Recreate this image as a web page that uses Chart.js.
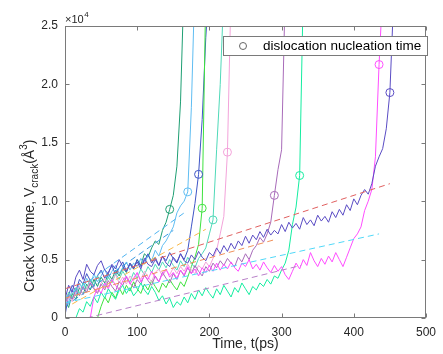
<!DOCTYPE html>
<html>
<head>
<meta charset="utf-8">
<script src="https://cdn.jsdelivr.net/npm/chart.js@4.4.0/dist/chart.umd.min.js"></script>
<style>
  html, body { margin: 0; padding: 0; background: #fff; }
</style>
</head>
<body>
<canvas id="crack-chart" width="443" height="354"></canvas>
<script>
// crack volume (x10^4 A^3) sampled every 5 ps, each run from its own start time
const STEP = 5;
const xTicks = [0, 100, 200, 300, 400, 500];
const yTicks = [0, 0.5, 1, 1.5, 2, 2.5];

const runNames  = ['darkGreen', 'lightBlue', 'medBlue', 'brightGreen', 'turquoise', 'pink', 'mauve', 'spring', 'magenta', 'slate'];
const runColors = ['#1f9f73', '#5fbdf2', '#3f55c6', '#3ee23e', '#4fd9b8', '#f3a3da', '#a86bb9', '#14eda0', '#ff4dff', '#5a4cc4'];
const runStart  = [0, 0, 0, 45, 0, 0, 0, 15, 35, 0];

const darkGreen = [0.15,0.09,0.21,0.16,0.26,0.20,0.29,0.24,0.33,0.27,
  0.35,0.30,0.38,0.33,0.41,0.36,0.43,0.39,0.47,0.42,
  0.50,0.45,0.55,0.52,0.60,0.66,0.63,0.75,0.82,0.93,
  1.05,1.30,1.85,2.9];
const lightBlue = [0.20,0.13,0.25,0.19,0.30,0.24,0.34,0.28,0.38,0.31,
  0.36,0.42,0.34,0.40,0.45,0.38,0.43,0.48,0.41,0.47,
  0.44,0.51,0.46,0.54,0.49,0.58,0.53,0.62,0.66,0.72,
  0.78,0.90,0.96,1.00,1.08,1.80,2.9];
const medBlue = [0.02,0.20,0.28,0.23,0.33,0.29,0.38,0.32,0.27,0.36,
  0.41,0.34,0.39,0.45,0.37,0.43,0.48,0.40,0.46,0.42,
  0.50,0.44,0.49,0.55,0.47,0.52,0.45,0.53,0.49,0.56,
  0.51,0.47,0.55,0.50,0.58,0.78,0.98,1.23,1.70,2.4,2.9];
const brightGreen = [0.00,0.10,0.18,0.13,0.22,0.17,0.26,0.20,0.28,0.23,
  0.31,0.25,0.21,0.29,0.24,0.32,0.27,0.22,0.30,0.26,
  0.33,0.28,0.24,0.31,0.27,0.35,0.44,0.52,0.63,0.94,2.8];
const turquoise = [0.14,0.22,0.17,0.26,0.21,0.30,0.25,0.33,0.28,0.36,
  0.31,0.27,0.35,0.30,0.38,0.33,0.40,0.35,0.31,0.39,
  0.34,0.42,0.37,0.44,0.39,0.46,0.41,0.48,0.43,0.50,
  0.45,0.41,0.49,0.44,0.52,0.47,0.43,0.51,0.55,0.60,
  0.72,0.84,1.44,2.0,2.8];
const pink = [0.10,0.18,0.14,0.22,0.27,0.20,0.25,0.31,0.26,0.22,
  0.30,0.34,0.27,0.32,0.37,0.30,0.35,0.29,0.36,0.32,
  0.38,0.33,0.40,0.35,0.31,0.39,0.42,0.36,0.41,0.37,
  0.43,0.38,0.44,0.40,0.46,0.41,0.38,0.45,0.42,0.48,
  0.44,0.51,0.58,0.72,0.87,1.42,2.8];
const mauve = [0.12,0.20,0.16,0.24,0.19,0.27,0.22,0.30,0.25,0.21,
  0.29,0.24,0.32,0.27,0.23,0.31,0.28,0.35,0.30,0.26,
  0.33,0.29,0.37,0.32,0.28,0.36,0.31,0.39,0.34,0.30,
  0.38,0.33,0.41,0.36,0.43,0.38,0.45,0.40,0.36,0.44,
  0.40,0.47,0.43,0.49,0.45,0.51,0.47,0.44,0.52,0.48,
  0.55,0.50,0.58,0.62,0.69,0.65,0.72,0.82,1.05,1.27,
  1.44,2.8];
const spring = [0.00,0.08,0.05,0.14,0.10,0.18,0.13,0.22,0.17,0.25,
  0.20,0.16,0.24,0.28,0.21,0.26,0.19,0.23,0.30,0.24,
  0.20,0.27,0.22,0.15,0.19,0.12,0.17,0.09,0.14,0.11,
  0.18,0.13,0.21,0.16,0.24,0.19,0.26,0.21,0.17,0.25,
  0.20,0.28,0.23,0.18,0.26,0.22,0.30,0.25,0.20,0.27,
  0.24,0.30,0.27,0.33,0.29,0.36,0.34,0.41,0.47,0.58,
  0.80,0.95,1.22,2.8];
const magenta = [0.00,0.18,0.26,0.21,0.30,0.25,0.33,0.28,0.24,0.32,
  0.36,0.29,0.34,0.39,0.31,0.36,0.33,0.40,0.35,0.31,
  0.38,0.42,0.35,0.39,0.34,0.41,0.37,0.44,0.38,0.42,
  0.36,0.43,0.39,0.45,0.40,0.47,0.41,0.46,0.42,0.48,
  0.43,0.40,0.47,0.44,0.50,0.42,0.46,0.41,0.48,0.43,
  0.39,0.45,0.40,0.44,0.37,0.33,0.40,0.47,0.42,0.50,
  0.45,0.56,0.49,0.44,0.51,0.46,0.53,0.48,0.56,0.50,
  0.44,0.52,0.60,0.68,0.72,0.78,0.92,1.00,1.10,1.38,
  2.17,2.8];
const slate = [0.16,0.28,0.22,0.35,0.41,0.33,0.46,0.40,0.37,0.45,0.49,0.41,0.38,0.46,0.42,0.50,0.44,0.40,0.47,0.43,
  0.48,0.42,0.51,0.46,0.44,0.50,0.45,0.53,0.47,0.44,0.52,0.48,0.55,0.49,0.47,0.54,0.50,0.57,0.52,0.49,
  0.56,0.53,0.60,0.55,0.62,0.57,0.64,0.59,0.66,0.62,0.70,0.64,0.71,0.67,0.74,0.69,0.76,0.71,0.75,0.72,
  0.80,0.74,0.82,0.77,0.81,0.76,0.86,0.80,0.84,0.79,0.88,0.83,0.87,0.82,0.91,0.86,0.93,0.88,0.97,0.92,
  1.02,0.97,1.05,1.10,1.06,1.15,1.30,1.38,1.45,1.62,1.93,2.7];
const runValues = [darkGreen, lightBlue, medBlue, brightGreen, turquoise, pink, mauve, spring, magenta, slate];

// dislocation nucleation points, same order as the runs
const nucTime = [145, 170, 185, 190, 205, 225, 290, 325, 435, 450];
const nucVol  = [0.93, 1.08, 1.23, 0.94, 0.84, 1.42, 1.05, 1.22, 2.17, 1.93];

// linear fits (dashed): start/end time and volume
const fitColors = ['#e06060', '#f0905a', '#f8b848', '#50d8f8', '#b880c8', '#50b4f0', '#3a9ae0'];
const fitT0 = [0, 0, 10, 0, 30, 0, 0];
const fitV0 = [0.25, 0.17, 0.12, 0.13, 0, 0.17, 0.10];
const fitT1 = [450, 290, 195, 435, 327, 165, 150];
const fitV1 = [1.15, 0.67, 0.76, 0.72, 0.45, 0.90, 0.75];

const FONT = '"Liberation Sans", Arial, Helvetica, sans-serif';
const AXIS = '#7a7a7a';
const TXT = '#262626';

// ─── datasets ─────────────────────────────────────────
const datasets = [];
runValues.forEach((vals, i) => {
  datasets.push({
    label: runNames[i],
    data: vals.map((v, k) => ({ x: runStart[i] + k * STEP, y: v })),
    borderColor: runColors[i],
    borderWidth: 1,
    pointRadius: 0,
    showLine: true,
    tension: 0,
    order: 100 - i
  });
});
fitColors.forEach((c, i) => {
  datasets.push({
    label: 'fit' + i,
    data: [{ x: fitT0[i], y: fitV0[i] }, { x: fitT1[i], y: fitV1[i] }],
    borderColor: c,
    borderWidth: 1,
    borderDash: [6, 4],
    pointRadius: 0,
    showLine: true,
    order: 10
  });
});
datasets.push({
  label: 'dislocation nucleation time',
  data: nucTime.map((t, i) => ({ x: t, y: nucVol[i] })),
  showLine: false,
  pointRadius: 4,
  pointBorderWidth: 1,
  pointBorderColor: runColors,
  pointBackgroundColor: 'rgba(0,0,0,0)',
  order: 1
});

// ─── frame, ticks, titles, legend (matlab look) ───────
const matlabFrame = {
  id: 'matlabFrame',
  afterDraw(chart) {
    const { ctx, chartArea: a, scales: { x, y } } = chart;
    const L = Math.round(a.left) + 0.5, R = Math.round(a.right) - 0.5;
    const T = Math.round(a.top) + 0.5, B = Math.round(a.bottom) - 0.5;
    ctx.save();
    ctx.strokeStyle = AXIS;
    ctx.lineWidth = 1;
    ctx.strokeRect(L, T, R - L, B - T);
    ctx.beginPath();
    xTicks.forEach(v => {
      const px = Math.round(x.getPixelForValue(v)) + 0.5;
      ctx.moveTo(px, B); ctx.lineTo(px, B - 4);
      ctx.moveTo(px, T); ctx.lineTo(px, T + 4);
    });
    yTicks.forEach(v => {
      const py = Math.round(y.getPixelForValue(v)) + 0.5;
      ctx.moveTo(L, py); ctx.lineTo(L + 4, py);
      ctx.moveTo(R, py); ctx.lineTo(R - 4, py);
    });
    ctx.stroke();

    // x10^4 exponent
    ctx.fillStyle = TXT;
    ctx.textBaseline = 'alphabetic';
    ctx.font = '11px ' + FONT;
    ctx.fillText('\u00d710', 65, 23);
    const w = ctx.measureText('\u00d710').width;
    ctx.font = '8px ' + FONT;
    ctx.fillText('4', 65 + w + 0.5, 17);

    // x title
    ctx.font = '14px ' + FONT;
    ctx.textAlign = 'center';
    ctx.fillText('Time, t(ps)', (a.left + a.right) / 2, 348);

    // y title with subscript / superscript
    ctx.save();
    ctx.translate(34, 292);
    ctx.rotate(-Math.PI / 2);
    ctx.textAlign = 'left';
    let p = 0;
    const part = (s, size, dy) => {
      ctx.font = size + 'px ' + FONT;
      ctx.fillText(s, p, dy);
      p += ctx.measureText(s).width;
    };
    part('Crack Volume, V', 14, 0);
    part('crack', 10, 4);
    part('(\u00c5', 14, 0);
    part('3', 10, -7);
    part(')', 14, 0);
    ctx.restore();

    // legend box
    ctx.fillStyle = '#fff';
    ctx.fillRect(223.5, 36.5, 204, 19);
    ctx.strokeStyle = AXIS;
    ctx.strokeRect(223.5, 36.5, 204, 19);
    ctx.beginPath();
    ctx.arc(243, 46, 3.5, 0, Math.PI * 2);
    ctx.strokeStyle = '#666';
    ctx.stroke();
    ctx.fillStyle = '#000';
    ctx.textAlign = 'left';
    ctx.textBaseline = 'middle';
    ctx.font = '13.5px ' + FONT;
    ctx.fillText('dislocation nucleation time', 263, 46.5);
    ctx.restore();
  }
};

new Chart(document.getElementById('crack-chart'), {
  type: 'scatter',
  data: { datasets },
  options: {
    responsive: false,
    animation: false,
    layout: { padding: { top: 26, right: 8, left: 0, bottom: 0 } },
    plugins: { legend: { display: false }, tooltip: { enabled: false } },
    scales: {
      x: {
        type: 'linear', min: 0, max: 500,
        afterFit: s => { s.height = 36; },
        grid: { display: false, drawTicks: false },
        border: { display: false },
        ticks: { stepSize: 100, padding: 7, color: TXT, font: { family: FONT, size: 12 } }
      },
      y: {
        type: 'linear', min: 0, max: 2.5,
        afterFit: s => { s.width = 65; },
        grid: { display: false, drawTicks: false },
        border: { display: false },
        ticks: { stepSize: 0.5, padding: 7, color: TXT, font: { family: FONT, size: 12 } }
      }
    }
  },
  plugins: [matlabFrame]
});
</script>
</body>
</html>
